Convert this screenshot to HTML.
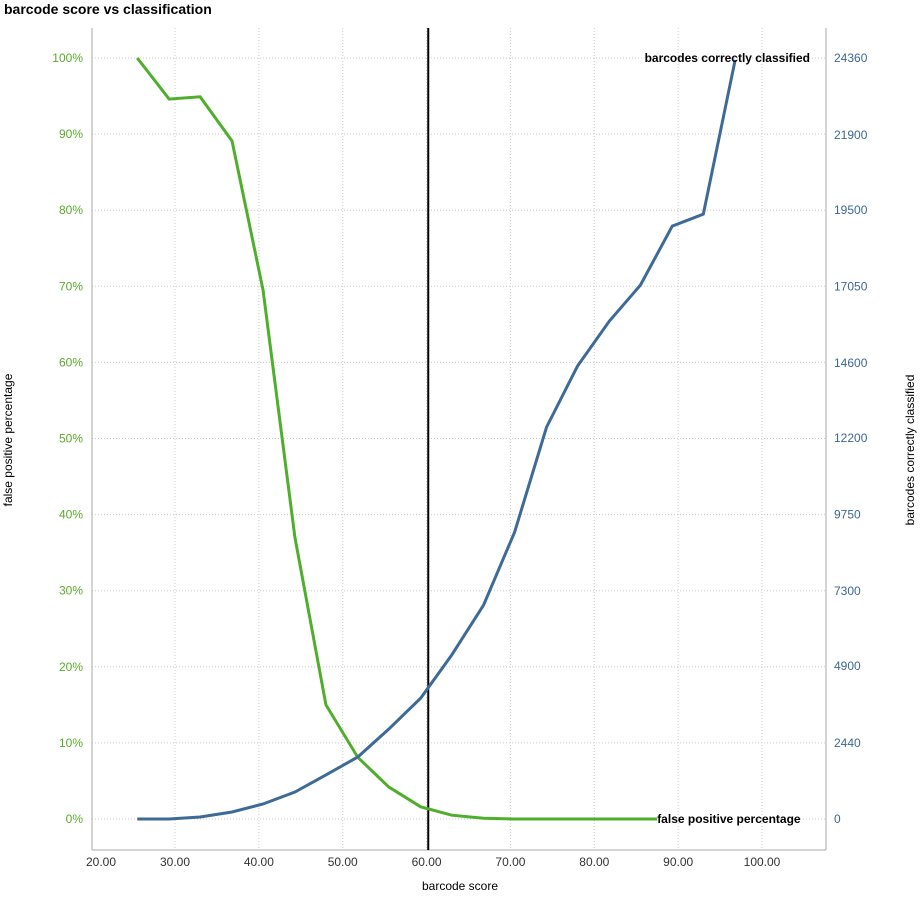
<!DOCTYPE html>
<html><head><meta charset="utf-8"><style>
body{margin:0;background:#fff;font-family:"Liberation Sans",sans-serif}
svg text{font-family:"Liberation Sans",sans-serif}
</style></head><body>
<svg id="chart" width="920" height="896">
<text x="4" y="14" font-size="14" font-weight="bold">barcode score vs classification</text>
<g id="grid"></g><g id="axes"></g><g id="series"></g>
</svg>
<script>
const blueX=[25.5,29.3,33.0,36.8,40.5,44.3,48.0,51.8,55.5,59.3,63.0,66.8,70.5,74.3,78.0,81.8,85.5,89.3,93.0,96.8];
const blueY=[0,0,64,224,480,864,1410,1985,2880,3870,5250,6850,9184,12540,14500,15940,17090,18980,19360,24300];
const greenX=[25.5,29.3,33.0,36.8,40.5,44.3,48.0,51.8,55.5,59.3,63.0,66.8,70.5,74.3,78.0,81.8,85.5,87.5];
const greenY=[100,94.6,94.9,89.1,69.5,37,15,8.1,4.2,1.6,0.5,0.1,0,0,0,0,0,0];
const xTicks=[20,30,40,50,60,70,80,90,100];
const leftTicks=[0,10,20,30,40,50,60,70,80,90,100];
const rightTicks=[0,2440,4900,7300,9750,12200,14600,17050,19500,21900,24360];
const refLine=60.2;
const X=v=>175+(v-30)*8.386;
const YL=v=>819-v*7.61;
const YR=v=>819-v/24360*761;
const NS="http://www.w3.org/2000/svg";
function mk(p,t,a,txt){const e=document.createElementNS(NS,t);for(const k in a)e.setAttribute(k,a[k]);if(txt!=null)e.textContent=txt;p.appendChild(e);return e;}
const grid=document.getElementById('grid'),axes=document.getElementById('axes'),ser=document.getElementById('series');
xTicks.forEach(t=>{const x=X(t);
 if(t>20){const l=mk(grid,'line',{x1:x,x2:x,y1:28,y2:850,stroke:'#ccc','stroke-dasharray':'1,2'});
 
 }
 const tx=mk(axes,'text',{x:t==20?101:x,y:866,'font-size':12,'text-anchor':'middle',fill:'#333'},t.toFixed(2));
 
 
});
leftTicks.forEach((t,i)=>{const y=YL(t);
 const l=mk(grid,'line',{x1:92,x2:826,y1:y,y2:y,stroke:'#ccc','stroke-dasharray':'1,2'});
 
 
 const a=mk(axes,'text',{x:83,y:y+4,'font-size':12,'text-anchor':'end',fill:'#5aab2a'},t+'%');
 
 
 const b=mk(axes,'text',{x:834,y:YR(rightTicks[i])+4,'font-size':12,fill:'#3e6796'},rightTicks[i]);
 
 
});
mk(axes,'line',{x1:92,x2:92,y1:28,y2:850,stroke:'#aaa'});
mk(axes,'line',{x1:826,x2:826,y1:28,y2:850,stroke:'#aaa'});
mk(axes,'line',{x1:92,x2:826,y1:850,y2:850,stroke:'#aaa'});
let e=mk(axes,'text',{x:460,y:890,'font-size':12,'text-anchor':'middle'},'barcode score');


e=mk(axes,'text',{x:0,y:0,'font-size':12,'text-anchor':'middle',transform:'translate(12,440) rotate(-90)'},'false positive percentage');


e=mk(axes,'text',{x:0,y:0,'font-size':12,'text-anchor':'middle',transform:'translate(914,450) rotate(-90)'},'barcodes correctly classified');


e=mk(ser,'line',{x1:X(refLine),x2:X(refLine),y1:28,y2:850,stroke:'#000','stroke-width':2});


e=mk(ser,'polyline',{points:greenX.map((x,i)=>X(x)+','+YL(greenY[i])).join(' '),fill:'none',stroke:'#4fae2c','stroke-width':3});


e=mk(ser,'polyline',{points:blueX.map((x,i)=>X(x)+','+YR(blueY[i])).join(' '),fill:'none',stroke:'#3e6a98','stroke-width':3});


e=mk(ser,'text',{x:X(greenX[greenX.length-1]),y:YL(greenY[greenY.length-1])+4,'font-size':12,'font-weight':'bold'},'false positive percentage');


e=mk(ser,'text',{x:810,y:62,'font-size':12,'font-weight':'bold','text-anchor':'end'},'barcodes correctly classified');


</script>
</body></html>
